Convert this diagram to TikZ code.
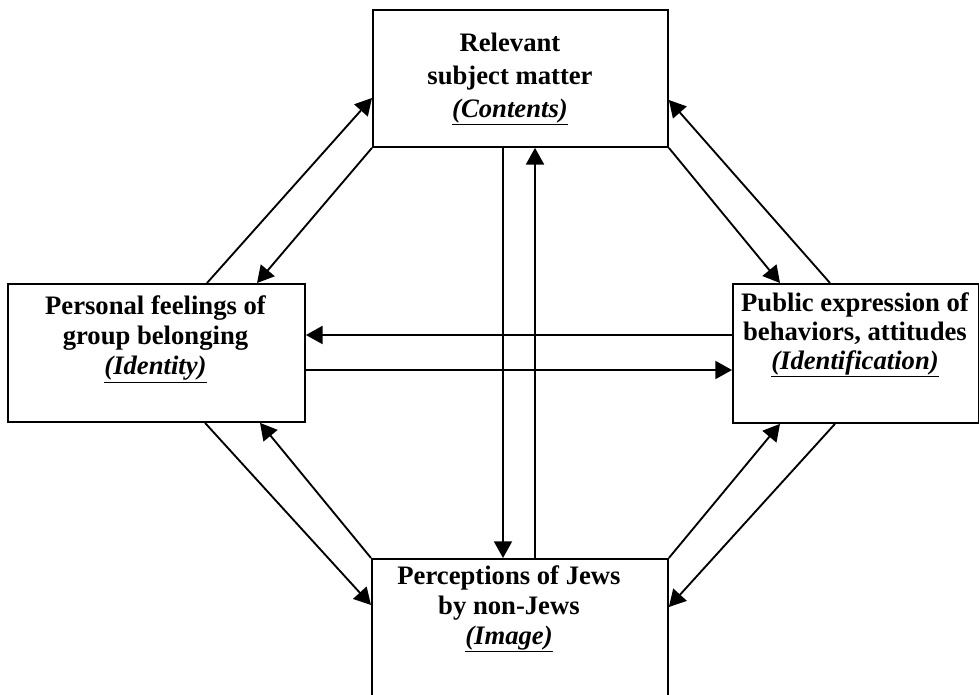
\documentclass[tikz,border=0pt]{standalone}
\usepackage{fontspec}
\setmainfont{Liberation Serif}
\usetikzlibrary{arrows.meta,calc}
\begin{document}
\begin{tikzpicture}[x=0.75pt,y=-0.75pt,
  box/.style={draw, line width=1.4pt, rectangle, inner sep=0pt, anchor=north west},
  lbl/.style={align=center, inner sep=0pt, font=\fontsize{20}{#1}\selectfont\bfseries},
  conn/.style={line width=1.4pt, -{Triangle[length=12.5pt,width=13.5pt]}}]
\useasboundingbox (0,0) rectangle (979,695);
\clip (0,0) rectangle (979,695);
\fill[white] (0,0) rectangle (979,695);
% boxes
\node[box, minimum width=221.25pt, minimum height=102.75pt] (top) at (372,9) {};
\node[box, minimum width=222.75pt, minimum height=103.5pt] (left) at (7,283) {};
\node[box, minimum width=184.5pt, minimum height=104.25pt] (right) at (732,283) {};
\node[box, minimum width=222pt, minimum height=120pt] (bottom) at (371,558) {};
% texts
\node[lbl=24.75pt] (toptext) at (510,79) {Relevant\\subject matter\\\underline{\textit{(Contents)}}};
\node[lbl=22.5pt] (lefttext) at (155.5,339) {Personal feelings of\\group belonging\\\underline{\textit{(Identity)}}};
\node[lbl=21.75pt] (righttext) at (855,335) {Public expression of\\behaviors, attitudes\\\underline{\textit{(Identification)}}};
\node[lbl=22.5pt] (bottomtext) at (509,609) {Perceptions of Jews\\by non-Jews\\\underline{\textit{(Image)}}};
% diagonal connectors
\draw[conn] ($(left.north west)+(200,0)$) -- ($(top.north west)+(0,89)$);
\draw[conn] (top.south west) -- ($(left.north west)+(250,0)$);
\draw[conn] (top.south east) -- ($(right.north west)+(48,0)$);
\draw[conn] ($(right.north west)+(98,0)$) -- ($(top.north east)+(0,91)$);
\draw[conn] ($(left.south west)+(198,0)$) -- ($(bottom.north west)+(0,47)$);
\draw[conn] (bottom.north west) -- ($(left.south west)+(253,0)$);
\draw[conn] (bottom.north east) -- ($(right.south west)+(48,0)$);
\draw[conn] ($(right.south west)+(103,0)$) -- ($(bottom.north east)+(0,49)$);
% vertical connectors
\draw[conn] ($(top.south west)+(131,0)$) -- ($(bottom.north west)+(132,0)$);
\draw[conn] ($(bottom.north west)+(164,0)$) -- ($(top.south west)+(163,0)$);
% horizontal connectors
\draw[conn] ($(right.north west)+(0,52)$) -- ($(left.north east)+(0,52)$);
\draw[conn] ($(left.north east)+(0,87)$) -- ($(right.north west)+(0,87)$);
\end{tikzpicture}
\end{document}
